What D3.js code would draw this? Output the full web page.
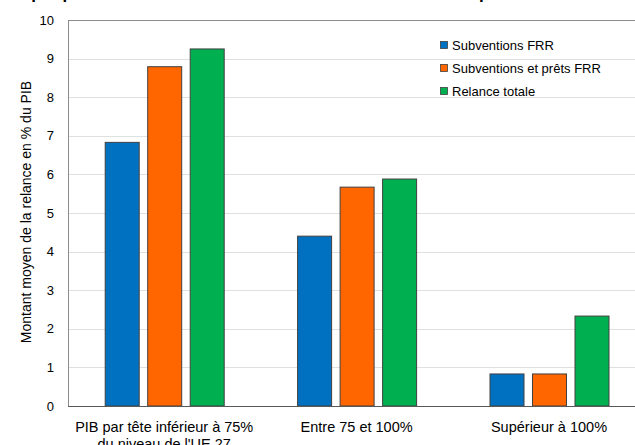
<!DOCTYPE html>
<meta charset="utf-8">
<head>
    <title></title>
    <script src="https://cdn.jsdelivr.net/npm/d3@7"></script>
</head>
<style>
    body{ margin:0; background:#fff; }
    text{ font-family: Arial, "Liberation Sans", sans-serif; }
</style>
<svg width="635" height="445"></svg>
<script>
    var categories = [["PIB par tête inférieur à 75%", "du niveau de l'UE 27"], ["Entre 75 et 100%"], ["Supérieur à 100%"]],
        series = ["Subventions FRR", "Subventions et prêts FRR", "Relance totale"],
        subventions = [6.83, 4.40, 0.83],
        subventionsPrets = [8.79, 5.67, 0.83],
        relance = [9.25, 5.88, 2.33],
        yTicks = [0,1,2,3,4,5,6,7,8,9,10],
        colors = ['#0070C0', '#FF6600', '#00B050'];

    var values = [subventions, subventionsPrets, relance];

    var svg = d3.select('svg'),
        plotLeft = 68, plotTop = 20, plotBottom = 406,
        groupW = 119;

    // titre coupé en haut
    svg.append('text').attr('x', 2).attr('y', -1)
        .style('font-size','17px').style('font-weight','bold')
        .text('Graphique 4 : Montant de la relance selon le niveau de PIB par tête des États membres');

    var y = d3.scaleLinear().domain([0,10]).range([plotBottom, plotTop]);
    var x = d3.scaleBand().domain(d3.range(categories.length)).range([plotLeft, plotLeft + 3*192.4]);
    var xs = d3.scaleBand().domain(d3.range(series.length)).range([0, groupW]).paddingInner(0.2);

    // grille
    svg.append('g').selectAll('line').data(yTicks.slice(1,-1)).enter().append('line')
        .attr('x1', plotLeft).attr('x2', 635)
        .attr('y1', function(d){ return Math.round(y(d))+0.5; })
        .attr('y2', function(d){ return Math.round(y(d))+0.5; })
        .style('stroke','#e0e0e0');

    svg.append('line').attr('x1',plotLeft).attr('x2',635).attr('y1',plotTop+0.5).attr('y2',plotTop+0.5).style('stroke','#8c8c8c');
    svg.append('line').attr('x1',plotLeft+0.5).attr('x2',plotLeft+0.5).attr('y1',plotTop).attr('y2',plotBottom).style('stroke','#8c8c8c');

    svg.append('g').selectAll('text').data(yTicks).enter().append('text')
        .attr('x', 54).attr('y', function(d){ return y(d)+4.5; })
        .attr('text-anchor','end').style('font-size','13px').style('fill','#000')
        .text(function(d){ return d; });

    svg.append('text').attr('transform','translate(31,212) rotate(-90)')
        .attr('text-anchor','middle').style('font-size','14px')
        .text('Montant moyen de la relance en % du PIB');

    // barres
    values.forEach(function(vals, s){
        svg.append('g').selectAll('rect').data(vals).enter().append('rect')
            .attr('x', function(d,i){ return x(i) + (x.bandwidth()-groupW)/2 + xs(s) + 0.5; })
            .attr('y', function(d){ return y(d); })
            .attr('width', xs.bandwidth())
            .attr('height', function(d){ return plotBottom - y(d); })
            .style('fill', colors[s])
            .style('stroke', '#404040')
            .style('stroke-width', 1);
    });

    svg.append('line').attr('x1',plotLeft).attr('x2',635).attr('y1',plotBottom+0.5).attr('y2',plotBottom+0.5).style('stroke','#595959');

    // étiquettes x
    categories.forEach(function(c,i){
        var cx = x(i) + x.bandwidth()/2;
        var t = svg.append('text').attr('x', cx).attr('y', 432)
            .attr('text-anchor','middle').style('font-size','14.5px');
        c.forEach(function(line,k){
            t.append('tspan').attr('x', cx).attr('dy', k ? 17 : 0).text(line);
        });
    });

    // légende
    var lg = svg.append('g').attr('transform','translate(440,41)');
    series.forEach(function(s,i){
        lg.append('rect').attr('x',0.5).attr('y', i*23+0.5).attr('width',7).attr('height',7)
            .style('fill', colors[i]).style('stroke','#404040').style('stroke-width',0.8);
        lg.append('text').attr('x',12).attr('y', i*23+8.5).style('font-size','13px').text(s);
    });
</script>
